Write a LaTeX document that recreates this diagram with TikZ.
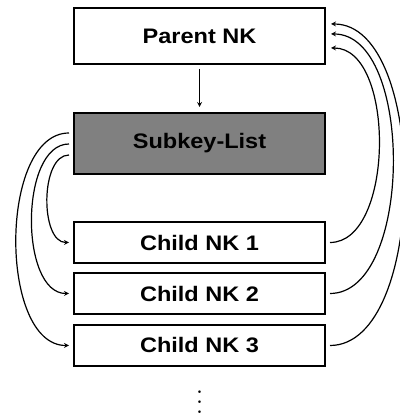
\documentclass[tikz,border=0pt]{standalone}
\usepackage{fontspec}
\newfontfamily\boxfont{Liberation Sans}[FakeStretch=1.12]
\tikzset{>=stealth}
\colorlet{background}{white}
\colorlet{penColor}{black}
\colorlet{listColor}{black!50}
\tikzset{
  nkbox/.style={draw=penColor, line width=2pt, fill=background, minimum width=251pt,
    inner sep=0pt, font=\boxfont\bfseries\fontsize{21}{25}\selectfont},
  link/.style={->, penColor, line width=1.2pt}
}

\begin{document}
\begin{tikzpicture}[x=1pt,y=1pt]
\useasboundingbox (0,0) rectangle (399,417);
\node[nkbox, minimum height=56pt] (parent) at (199.5,381) {Parent NK};
\node[nkbox, minimum height=61pt, fill=listColor] (subkey) at (199.5,273.5) {Subkey-List};
\node[nkbox, minimum height=41pt] (child1) at (199.5,174.5) {Child NK 1};
\node[nkbox, minimum height=41pt] (child2) at (199.5,123.5) {Child NK 2};
\node[nkbox, minimum height=41pt] (child3) at (199.5,71.5) {Child NK 3};
\node[inner sep=0pt, anchor=south] (dots) at (199.5,3) {\scalebox{2.5}{$\vdots$}};
\draw[link, shorten <=4pt, shorten >=5pt] (parent) -- (subkey);
% subkey list points to each child
\draw[link] ([xshift=-4pt,yshift=10.5pt]subkey.west) to[out=180,in=180,looseness=0.85] ([xshift=-4pt]child3.west);
\draw[link] ([xshift=-4pt,yshift=-0.5pt]subkey.west) to[out=180,in=180,looseness=0.85] ([xshift=-4pt]child2.west);
\draw[link] ([xshift=-4pt,yshift=-11.5pt]subkey.west) to[out=180,in=180,looseness=0.85] ([xshift=-4pt]child1.west);
% children point back to parent
\draw[link] ([xshift=4pt]child1.east) to[out=0,in=0,looseness=0.85] ([xshift=5pt,yshift=-12pt]parent.east);
\draw[link] ([xshift=4pt]child2.east) to[out=0,in=0,looseness=0.82] ([xshift=5pt,yshift=2pt]parent.east);
\draw[link] ([xshift=4pt]child3.east) to[out=0,in=0,looseness=0.78] ([xshift=5pt,yshift=12pt]parent.east);
\end{tikzpicture}
\end{document}
